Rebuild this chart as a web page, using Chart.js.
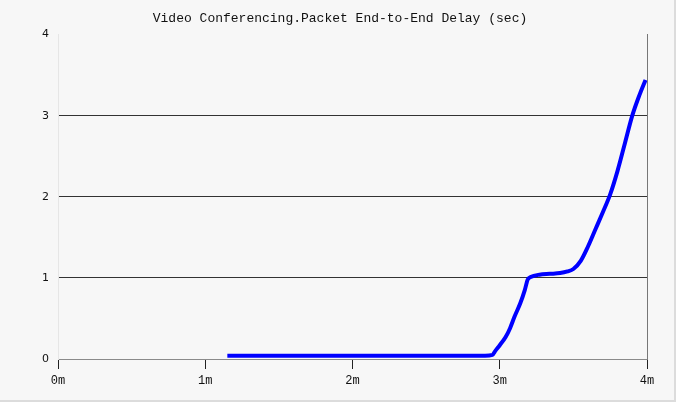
<!DOCTYPE html>
<html>
<head>
<meta charset="utf-8">
<script src="https://cdn.jsdelivr.net/npm/chart.js@4"></script>
<style>
  body { margin: 0; background: #ffffff; }
  #wrap { position: relative; width: 680px; height: 402px; }
  #panel { position: absolute; left: 0; top: 0; width: 674px; height: 400px;
           background: #f7f7f7; border-right: 2px solid #dcdcdc; border-bottom: 2px solid #dcdcdc; }
  #myChart { position: absolute; left: 0; top: 0; }
</style>
</head>
<body>
<div id="wrap">
  <div id="panel"></div>
  <canvas id="myChart" width="680" height="402"></canvas>
</div>
<script>
// time in minutes, delay in seconds
const timeMin = [1.15, 1.5, 2.0, 2.5, 2.9, 2.95, 2.97, 3.0, 3.04, 3.07, 3.10, 3.14, 3.17, 3.19, 3.21, 3.27, 3.34, 3.41, 3.46, 3.50, 3.55, 3.60, 3.65, 3.70, 3.75, 3.80, 3.85, 3.90, 3.95, 3.99];
const delaySec = [0.04, 0.04, 0.04, 0.04, 0.04, 0.05, 0.10, 0.17, 0.27, 0.38, 0.52, 0.69, 0.85, 0.98, 1.01, 1.04, 1.05, 1.06, 1.08, 1.11, 1.21, 1.39, 1.60, 1.81, 2.03, 2.32, 2.66, 3.00, 3.26, 3.44];
const xTicks = [0, 1, 2, 3, 4];
const yTicks = [0, 1, 2, 3, 4];
const title = 'Video Conferencing.Packet End-to-End Delay (sec)';

const points = timeMin.map((t, i) => ({ x: t, y: delaySec[i] }));

const ctx = document.getElementById('myChart').getContext('2d');
const myChart = new Chart(ctx, {
  type: 'line',
  data: {
    datasets: [{
      data: points,
      borderColor: '#0000ff',
      borderWidth: 4,
      pointRadius: 0,
      cubicInterpolationMode: 'monotone',
      fill: false,
    }],
  },
  options: {
    responsive: false,
    animation: false,
    plugins: {
      legend: { display: false },
      tooltip: { enabled: false },
      title: {
        display: true,
        text: title,
        color: '#111',
        font: { family: 'Liberation Mono', size: 13, weight: 'normal' },
        padding: { top: 11, bottom: 8 },
      },
    },
    scales: {
      x: {
        type: 'linear',
        min: 0,
        max: 4,
        afterBuildTicks: s => { s.ticks = xTicks.map(v => ({ value: v })); },
        afterFit: s => { s.height = 43; },
        ticks: {
          callback: v => v + 'm',
          color: '#111',
          font: { family: 'Liberation Mono', size: 12 },
          padding: 5,
          maxRotation: 0,
        },
        grid: {
          drawOnChartArea: false,
          tickLength: 10,
          color: '#222',
        },
        border: { color: '#8a8a8a', width: 1 },
      },
      y: {
        min: 0,
        max: 4,
        afterBuildTicks: s => { s.ticks = yTicks.map(v => ({ value: v })); },
        afterFit: s => { s.width = 58; },
        ticks: {
          color: '#111',
          font: { family: 'DejaVu Sans', size: 11 },
          padding: 9,
        },
        grid: {
          drawTicks: false,
          color: c => (c.tick.value > 0 && c.tick.value < 4) ? '#333' : 'rgba(0,0,0,0)',
        },
        border: { color: '#e6e6e6', width: 1 },
      },
      yRight: {
        position: 'right',
        min: 0,
        max: 4,
        afterFit: s => { s.width = 33; },
        ticks: { display: false },
        grid: { drawOnChartArea: false, drawTicks: false },
        border: { color: '#777', width: 1 },
      },
    },
  },
});
</script>
</body>
</html>
